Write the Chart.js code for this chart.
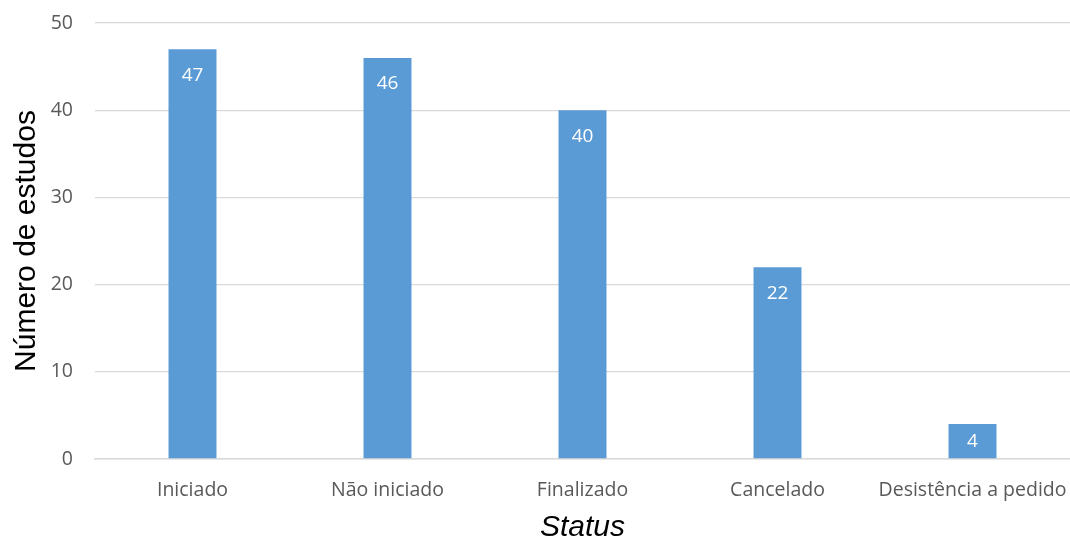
<!DOCTYPE html>
<html>
<head>
<meta charset="utf-8">
<script src="https://cdn.jsdelivr.net/npm/chart.js@4"></script>
<style>
    body { margin: 0; background: #fff; }
    #wrap { width: 1070px; height: 538px; }
</style>
</head>
<body>
<div id="wrap"><canvas id="grafico"></canvas></div>
<script>
const status = ['Iniciado', 'Não iniciado', 'Finalizado', 'Cancelado', 'Desistência a pedido'];
const estudos = [47, 46, 40, 22, 4];
const ticksY = [0, 10, 20, 30, 40, 50];

// números brancos dentro do topo de cada barra (centrados se a barra for curta)
const rotulos = {
    id: 'rotulos',
    afterDatasetsDraw(chart) {
        const { ctx } = chart;
        const meta = chart.getDatasetMeta(0);
        ctx.save();
        ctx.fillStyle = '#ffffff';
        ctx.font = '19px "Open Sans"';
        ctx.textAlign = 'center';
        ctx.textBaseline = 'middle';
        meta.data.forEach((barra, i) => {
            const y = Math.min(barra.y + 26, (barra.y + barra.base) / 2);
            ctx.fillText(estudos[i], barra.x, y);
        });
        ctx.restore();
    }
};

new Chart(document.getElementById('grafico').getContext('2d'), {
    type: 'bar',
    plugins: [rotulos],
    data: {
        labels: status,
        datasets: [{
            data: estudos,
            backgroundColor: '#5B9BD5',
            barPercentage: 0.246,
            categoryPercentage: 1.0
        }]
    },
    options: {
        responsive: true,
        maintainAspectRatio: false,
        animation: false,
        layout: { padding: { top: 23, right: 0, left: 0, bottom: 0 } },
        plugins: {
            legend: { display: false },
            tooltip: { enabled: false }
        },
        scales: {
            x: {
                grid: { display: false },
                border: { display: true, color: '#d9d9d9', width: 1.5 },
                ticks: {
                    color: '#595959',
                    padding: 12,
                    font: { family: '"Open Sans"', size: 19.5 }
                },
                title: {
                    display: true,
                    text: 'Status',
                    color: '#000000',
                    padding: { top: 2, bottom: -8 },
                    font: { family: '"Liberation Sans"', size: 30, style: 'italic' }
                },
                afterFit(scale) {
                    scale.height = 79;
                    scale.paddingRight = 0;
                    scale.paddingLeft = 0;
                }
            },
            y: {
                min: 0,
                max: 50,
                afterBuildTicks(scale) {
                    scale.ticks = ticksY.map(v => ({ value: v }));
                },
                grid: { color: '#d9d9d9', lineWidth: 1.3, drawTicks: false },
                border: { display: false },
                ticks: {
                    color: '#595959',
                    padding: 22,
                    font: { family: '"Open Sans"', size: 19.5 }
                },
                title: {
                    display: true,
                    text: 'Número de estudos',
                    color: '#000000',
                    padding: { top: 9, bottom: 10 },
                    font: { family: '"Liberation Sans"', size: 30 }
                },
                afterFit(scale) {
                    scale.width = 95;
                    scale.paddingTop = 0;
                    scale.paddingBottom = 0;
                }
            }
        }
    }
});
</script>
</body>
</html>
